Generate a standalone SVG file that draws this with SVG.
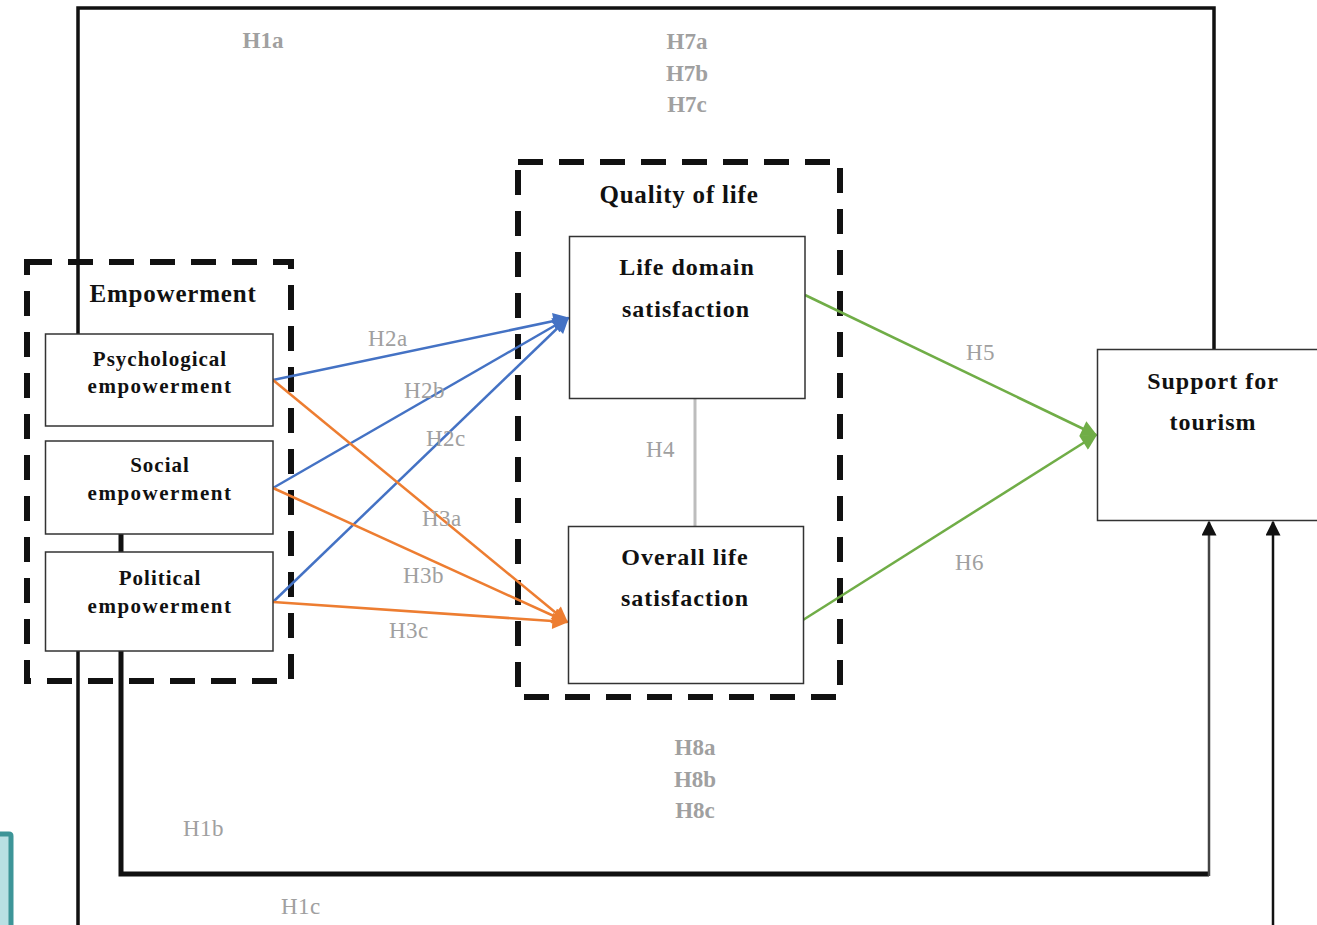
<svg xmlns="http://www.w3.org/2000/svg" width="1317" height="925" viewBox="0 0 1317 925">
<style>
.node rect{fill:#fff;stroke:#333;stroke-width:1.5}
.group{fill:none;stroke:#111;stroke-width:6;stroke-dasharray:25 16}
.nt{font-family:"Liberation Serif",serif;font-weight:bold;fill:#111;text-anchor:middle}
.lbl{font-family:"Liberation Serif",serif;fill:#a0a0a0;font-size:23px;letter-spacing:0.5px}
.lblb{font-family:"Liberation Serif",serif;fill:#a0a0a0;font-size:23px;font-weight:bold;text-anchor:middle}
.blue{stroke:#4472C4;stroke-width:2.5;fill:none}
.orange{stroke:#ED7D31;stroke-width:2.5;fill:none}
.green{stroke:#70AD47;stroke-width:2.5;fill:none}
.blk{stroke:#111;fill:none}
</style>
<defs>
<marker id="ab" viewBox="0 0 10 10" refX="9" refY="5" markerWidth="7" markerHeight="6.5" markerUnits="strokeWidth" orient="auto"><path d="M0,0 L10,5 L0,10 z" fill="#4472C4"/></marker>
<marker id="ao" viewBox="0 0 10 10" refX="9" refY="5" markerWidth="7" markerHeight="6.5" markerUnits="strokeWidth" orient="auto"><path d="M0,0 L10,5 L0,10 z" fill="#ED7D31"/></marker>
<marker id="ag" viewBox="0 0 10 10" refX="9" refY="5" markerWidth="7" markerHeight="6.5" markerUnits="strokeWidth" orient="auto"><path d="M0,0 L10,5 L0,10 z" fill="#70AD47"/></marker>
<marker id="ak" viewBox="0 0 10 10" refX="9" refY="5" markerWidth="6" markerHeight="6" markerUnits="strokeWidth" orient="auto"><path d="M0,0 L10,5 L0,10 z" fill="#111"/></marker>
</defs>
<rect width="1317" height="925" fill="#fff"/>

<!-- teal artifact at bottom-left -->
<path d="M-3,834 H9 Q11,834 11,836 V928 H-3 z" fill="#b9e0e3" stroke="#3d9598" stroke-width="5"/>

<!-- groups -->
<g id="empowerment-group">
<rect class="group" x="27" y="262" width="264" height="419"/>
<text class="nt" x="173" y="302" font-size="25" letter-spacing="0.8">Empowerment</text>
</g>
<g id="qol-group">
<rect class="group" x="518" y="162" width="322" height="535"/>
<text class="nt" x="679" y="203" font-size="25" letter-spacing="0.8">Quality of life</text>
</g>

<!-- connectors -->
<g id="connectors">
<path class="blk" stroke-width="3.5" d="M78,334 V8 H1214 V349"/>
<path class="blk" stroke-width="3.5" d="M78,651 V925"/>
<path class="blk" stroke-width="5" d="M121,534 V552"/>
<path class="blk" stroke-width="5" d="M121,651 V874 H1209"/>
<path stroke="#444" stroke-width="2.5" fill="none" d="M1209,876 V522" marker-end="url(#ak)"/>
<path class="blk" stroke-width="2.5" d="M1273,925 V522" marker-end="url(#ak)"/>
<path class="blue" d="M273,380 L568,318" marker-end="url(#ab)"/>
<path class="blue" d="M273,488 L568,318" marker-end="url(#ab)"/>
<path class="blue" d="M273,602 L568,318" marker-end="url(#ab)"/>
<path class="orange" d="M273,380 L567,622" marker-end="url(#ao)"/>
<path class="orange" d="M273,488 L567,622" marker-end="url(#ao)"/>
<path class="orange" d="M273,602 L567,622" marker-end="url(#ao)"/>
<path class="green" d="M805,295 L1096,435" marker-end="url(#ag)"/>
<path class="green" d="M803,620 L1096,435" marker-end="url(#ag)"/>
<path stroke="#bdbdbd" stroke-width="3" fill="none" d="M695,398 V526"/>
</g>

<!-- nodes -->
<g id="psych" class="node">
<rect x="45.5" y="334" width="227.5" height="92"/>
<text class="nt" x="160" y="366" font-size="21" letter-spacing="1">Psychological</text>
<text class="nt" x="160" y="393" font-size="21" letter-spacing="1.5">empowerment</text>
</g>
<g id="social" class="node">
<rect x="45.5" y="441" width="227.5" height="93"/>
<text class="nt" x="160" y="472" font-size="21" letter-spacing="1">Social</text>
<text class="nt" x="160" y="500" font-size="21" letter-spacing="1.5">empowerment</text>
</g>
<g id="political" class="node">
<rect x="45.5" y="552" width="227.5" height="99"/>
<text class="nt" x="160" y="585" font-size="21" letter-spacing="1">Political</text>
<text class="nt" x="160" y="613" font-size="21" letter-spacing="1.5">empowerment</text>
</g>
<g id="lifedomain" class="node">
<rect x="569.5" y="236.5" width="235.5" height="162"/>
<text class="nt" x="687" y="275" font-size="24" letter-spacing="1">Life domain</text>
<text class="nt" x="686" y="317" font-size="24" letter-spacing="1">satisfaction</text>
</g>
<g id="overall" class="node">
<rect x="568.5" y="526.5" width="235" height="157"/>
<text class="nt" x="685" y="565" font-size="24" letter-spacing="1">Overall life</text>
<text class="nt" x="685" y="606" font-size="24" letter-spacing="1">satisfaction</text>
</g>
<g id="support" class="node">
<rect x="1097.5" y="349.5" width="230" height="171"/>
<text class="nt" x="1213" y="389" font-size="24" letter-spacing="1">Support for</text>
<text class="nt" x="1213" y="430" font-size="24" letter-spacing="1">tourism</text>
</g>

<!-- hypothesis labels -->
<g id="labels">
<text class="lblb" x="263" y="48">H1a</text>
<text class="lblb" x="687" y="49">H7a</text>
<text class="lblb" x="687" y="81">H7b</text>
<text class="lblb" x="687" y="112">H7c</text>
<text class="lblb" x="695" y="755">H8a</text>
<text class="lblb" x="695" y="787">H8b</text>
<text class="lblb" x="695" y="818">H8c</text>
<text class="lbl" x="368" y="346">H2a</text>
<text class="lbl" x="404" y="398">H2b</text>
<text class="lbl" x="426" y="446">H2c</text>
<text class="lbl" x="422" y="526">H3a</text>
<text class="lbl" x="403" y="583">H3b</text>
<text class="lbl" x="389" y="638">H3c</text>
<text class="lbl" x="646" y="457">H4</text>
<text class="lbl" x="966" y="360">H5</text>
<text class="lbl" x="955" y="570">H6</text>
<text class="lbl" x="183" y="836">H1b</text>
<text class="lbl" x="281" y="914">H1c</text>
</g>
</svg>
